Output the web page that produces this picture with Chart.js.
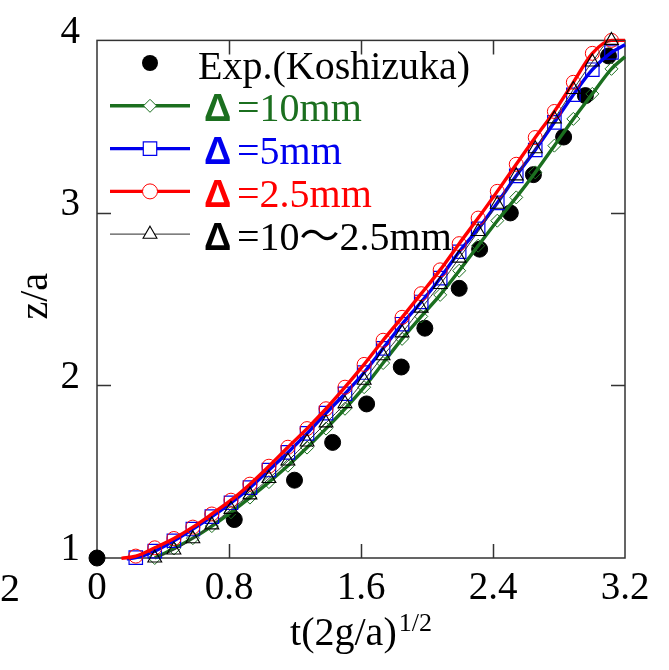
<!DOCTYPE html>
<html><head><meta charset="utf-8">
<style>html,body{margin:0;padding:0;background:#fff;}#wrap{width:669px;height:670px;position:relative;}</style>
<script src="https://cdn.jsdelivr.net/npm/chart.js@4/dist/chart.umd.min.js"></script>
</head><body><div id="wrap"><canvas id="c" width="669" height="670"></canvas></div>
<script>
// ---- data ----
const expT = [0, 0.832, 1.197, 1.428, 1.634, 1.844, 1.987, 2.195, 2.319, 2.505, 2.645, 2.828, 2.960, 3.100];
const expZ = [1.0, 1.223, 1.451, 1.670, 1.893, 2.107, 2.332, 2.563, 2.790, 3.000, 3.222, 3.440, 3.680, 3.910];

const simT = [0.235, 0.350, 0.466, 0.581, 0.696, 0.812, 0.927, 1.042, 1.157, 1.273, 1.388, 1.503, 1.619,
              1.734, 1.849, 1.965, 2.080, 2.195, 2.310, 2.426, 2.541, 2.656, 2.772, 2.887, 3.002, 3.118];

const z2_5 = [1.011, 1.059, 1.113, 1.179, 1.255, 1.335, 1.428, 1.532, 1.642, 1.750, 1.865, 1.990, 2.122,
              2.262, 2.395, 2.532, 2.670, 2.822, 2.970, 3.125, 3.282, 3.437, 3.588, 3.757, 3.925, 4.000];
const z5   = [1.002, 1.040, 1.100, 1.168, 1.240, 1.320, 1.408, 1.510, 1.612, 1.722, 1.840, 1.952, 2.075,
              2.215, 2.355, 2.484, 2.622, 2.775, 2.908, 3.058, 3.215, 3.365, 3.525, 3.685, 3.830, 3.930];
// these two start one step later (simT[1] onwards)
const z10  = [1.000, 1.055, 1.115, 1.185, 1.265, 1.350, 1.440, 1.535, 1.640, 1.750, 1.865, 1.990,
              2.130, 2.270, 2.400, 2.525, 2.665, 2.810, 2.955, 3.090, 3.235, 3.390, 3.545, 3.690, 3.835];
const zAdapt = [1.000, 1.046, 1.112, 1.192, 1.282, 1.366, 1.461, 1.562, 1.672, 1.783, 1.895, 2.030,
              2.172, 2.305, 2.448, 2.585, 2.738, 2.892, 3.050, 3.215, 3.372, 3.545, 3.715, 3.875, 4.000];

// line-only end points (no marker)
const start2_5 = [0.148, 0.998], end2_5 = [3.2, 4.0];
const start5 = [0.180, 0.995],   end5 = [3.2, 3.975];
const end10 = [3.2, 3.905];
const endAdapt = [3.2, 4.0];

const seriesLabels = ['Exp.(Koshizuka)', 'Δ=10mm', 'Δ=5mm', 'Δ=2.5mm', 'Δ=10〜2.5mm'];
const xTickLabels = ['0', '0.8', '1.6', '2.4', '3.2'];
const yTickLabels = ['1', '2', '3', '4'];
const xTitle = 't(2g/a)', xTitleSup = '1/2', yTitle = 'z/a';
const strayText = '2';

// ---- build ----
function pts(ts, zs, s, e) {
  const out = [];
  if (s) out.push({x: s[0], y: s[1], m: false});
  ts.forEach((t, i) => out.push({x: t, y: zs[i], m: true}));
  if (e) out.push({x: e[0], y: e[1], m: false});
  return out;
}
const SERIF = "'Liberation Serif', 'Times New Roman', 'Noto Sans CJK JP', serif";
const GREEN = '#1b6f1f', BLUE = '#0000ee', RED = '#ff0000';

const radiusFn = r => ctx => (ctx.raw && ctx.raw.m) ? r : 0;

const datasets = [
  {label: seriesLabels[0], data: pts(expT, expZ), showLine: false, pointStyle: 'circle',
   pointRadius: 8, backgroundColor: '#000', borderColor: '#000', order: 5},
  {label: seriesLabels[1], data: pts(simT.slice(1), z10, null, end10), showLine: true,
   borderColor: GREEN, borderWidth: 3.4, pointStyle: 'rectRot', pointRadius: radiusFn(6.5),
   pointBorderWidth: 1, pointBorderColor: GREEN, pointBackgroundColor: 'rgba(0,0,0,0)', order: 4},
  {label: seriesLabels[2], data: pts(simT, z5, start5, end5), showLine: true,
   borderColor: BLUE, borderWidth: 3.4, pointStyle: 'rect', pointRadius: radiusFn(9.5),
   pointBorderWidth: 1.2, pointBorderColor: BLUE, pointBackgroundColor: 'rgba(0,0,0,0)', order: 3},
  {label: seriesLabels[3], data: pts(simT, z2_5, start2_5, end2_5), showLine: true,
   borderColor: RED, borderWidth: 3.4, pointStyle: 'circle', pointRadius: radiusFn(7),
   pointBorderWidth: 1, pointBorderColor: RED, pointBackgroundColor: 'rgba(0,0,0,0)', order: 2},
  {label: seriesLabels[4], data: pts(simT.slice(1), zAdapt, null, endAdapt), showLine: true,
   borderColor: '#333', borderWidth: 1, pointStyle: 'triangle', pointRadius: radiusFn(8),
   pointBorderWidth: 1.1, pointBorderColor: '#000', pointBackgroundColor: 'rgba(0,0,0,0)', order: 1}
];
datasets.forEach(d => { d.clip = false; d.cubicInterpolationMode = 'monotone'; d.pointHoverRadius = 0; });

function marker(ctx, style, x, y, r) {
  ctx.beginPath();
  if (style === 'circle') ctx.arc(x, y, r, 0, Math.PI * 2);
  else if (style === 'rect') { const s = r * Math.SQRT1_2; ctx.rect(x - s, y - s, 2 * s, 2 * s); }
  else if (style === 'rectRot') { ctx.moveTo(x, y - r); ctx.lineTo(x + r, y); ctx.lineTo(x, y + r); ctx.lineTo(x - r, y); ctx.closePath(); }
  else if (style === 'triangle') {
    for (let i = 0; i < 3; i++) { const a = i * 2 * Math.PI / 3; const px = x + Math.sin(a) * r, py = y - Math.cos(a) * r; i ? ctx.lineTo(px, py) : ctx.moveTo(px, py); }
    ctx.closePath();
  }
}

const paperPlugin = {
  id: 'paper',
  beforeDatasetsDraw(chart) {
    const {ctx, chartArea: a, scales: {x, y}} = chart;
    ctx.save();
    ctx.strokeStyle = '#333'; ctx.lineWidth = 1.5;
    ctx.strokeRect(a.left, a.top, a.right - a.left, a.bottom - a.top);
    const L = 14;
    ctx.beginPath();
    x.ticks.forEach(t => {
      if (t.value <= x.min + 1e-9 || t.value >= x.max - 1e-9) return;
      const p = Math.round(x.getPixelForValue(t.value)) + 0.5;
      ctx.moveTo(p, a.bottom); ctx.lineTo(p, a.bottom - L);
      ctx.moveTo(p, a.top); ctx.lineTo(p, a.top + L);
    });
    y.ticks.forEach(t => {
      if (t.value <= y.min + 1e-9 || t.value >= y.max - 1e-9) return;
      const p = Math.round(y.getPixelForValue(t.value)) + 0.5;
      ctx.moveTo(a.left, p); ctx.lineTo(a.left + L, p);
      ctx.moveTo(a.right, p); ctx.lineTo(a.right - L, p);
    });
    ctx.stroke();

    // legend
    const x0 = 110, x1 = 190, xm = 150, row0 = 63, step = 42.8;
    chart.data.datasets.forEach((d, i) => {
      const yy = row0 + i * step;
      const col = i === 0 ? '#000' : (i === 4 ? '#000' : d.borderColor);
      if (d.showLine) {
        ctx.beginPath();
        ctx.strokeStyle = i === 4 ? '#555' : d.borderColor;
        ctx.lineWidth = i === 4 ? 1.3 : d.borderWidth;
        ctx.moveTo(x0, yy); ctx.lineTo(x1, yy); ctx.stroke();
      }
      if (i === 0) {
        marker(ctx, 'circle', xm, yy, 8); ctx.fillStyle = '#000'; ctx.fill();
      } else {
        const r = {rectRot: 6.5, rect: 9.5, circle: 7.5, triangle: 8}[d.pointStyle];
        marker(ctx, d.pointStyle, xm, yy, r);
        ctx.fillStyle = '#fff'; ctx.fill();
        ctx.strokeStyle = d.pointBorderColor; ctx.lineWidth = d.pointBorderWidth; ctx.stroke();
      }
      ctx.fillStyle = col;
      ctx.textBaseline = 'alphabetic'; ctx.textAlign = 'left';
      const base = yy + 15.5;
      const lbl = d.label;
      if (lbl[0] === 'Δ') {
        ctx.font = "bold 38px 'Liberation Sans', 'DejaVu Sans', sans-serif";
        ctx.fillText('Δ', 204, base);
        ctx.font = '40px ' + SERIF;
        ctx.fillText(lbl.slice(1), 237, base);
      } else {
        ctx.font = '40px ' + SERIF;
        ctx.fillText(lbl, 198, base);
      }
    });
    ctx.restore();
  },
  afterDraw(chart) {
    const {ctx, chartArea: a} = chart;
    ctx.save();
    ctx.fillStyle = '#000';
    // x title with superscript
    ctx.textBaseline = 'alphabetic'; ctx.textAlign = 'left';
    ctx.font = '40px ' + SERIF;
    const w1 = ctx.measureText(xTitle).width;
    ctx.font = '26px ' + SERIF;
    const w2 = ctx.measureText(xTitleSup).width;
    const cx = (a.left + a.right) / 2;
    let sx = cx - (w1 + w2 + 2) / 2;
    ctx.font = '40px ' + SERIF;
    ctx.fillText(xTitle, sx, 645);
    ctx.font = '26px ' + SERIF;
    ctx.fillText(xTitleSup, sx + w1 + 2, 631);
    // y title
    ctx.save();
    ctx.translate(47, (a.top + a.bottom) / 2 - 3);
    ctx.rotate(-Math.PI / 2);
    ctx.textAlign = 'center';
    ctx.font = '40px ' + SERIF;
    ctx.fillText(yTitle, 0, 0);
    ctx.restore();
    // stray label at left
    ctx.font = '40px ' + SERIF;
    ctx.textBaseline = 'middle'; ctx.textAlign = 'left';
    ctx.fillText(strayText, 0, 590);
    ctx.restore();
  }
};

new Chart(document.getElementById('c'), {
  type: 'scatter',
  data: {datasets},
  options: {
    responsive: false, animation: false,
    events: [],
    layout: {padding: {top: 33, right: 44, left: 0, bottom: 0}},
    plugins: {legend: {display: false}, tooltip: {enabled: false}},
    scales: {
      x: {
        type: 'linear', min: 0, max: 3.2,
        grid: {display: false, drawTicks: false}, border: {display: false},
        afterFit: s => { s.height = 112; },
        ticks: {stepSize: 0.8, padding: 7, color: '#000', font: {family: SERIF, size: 39},
                maxRotation: 0, autoSkip: false,
                callback: (v, i) => xTickLabels[i]}
      },
      y: {
        type: 'linear', min: 1, max: 4,
        grid: {display: false, drawTicks: false}, border: {display: false},
        afterFit: s => { s.width = 97; },
        ticks: {stepSize: 1, padding: 17, labelOffset: -8, color: '#000', font: {family: SERIF, size: 39},
                callback: (v, i) => yTickLabels[i]}
      }
    }
  },
  plugins: [paperPlugin]
});
</script></body></html>
